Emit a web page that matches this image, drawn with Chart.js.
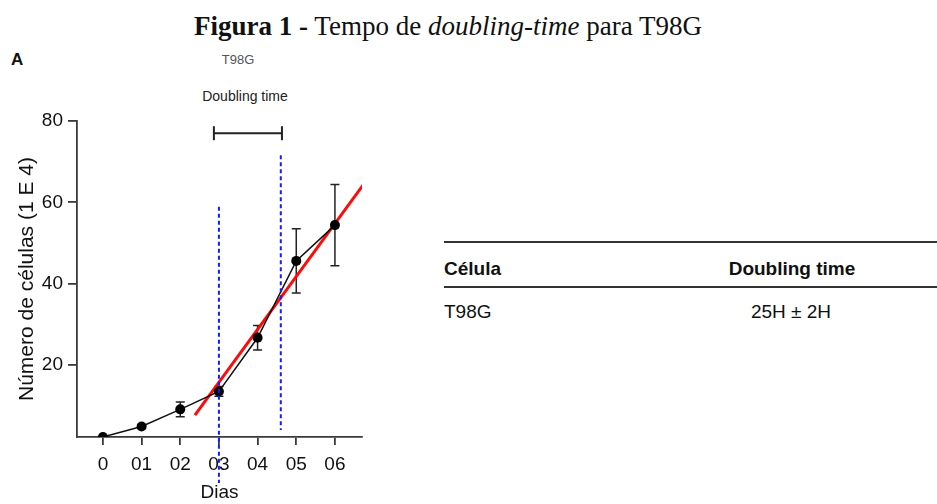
<!DOCTYPE html>
<html>
<head>
<meta charset="utf-8">
<script src="https://cdn.jsdelivr.net/npm/chart.js@4.4.0/dist/chart.umd.min.js"></script>
<style>
  html, body { margin: 0; padding: 0; background: #fff; }
  body { width: 937px; height: 504px; position: relative; overflow: hidden; font-family: "Liberation Sans", Arial, sans-serif; color: #111; }
  #wrap { position: absolute; left: 0; top: 0; width: 380px; height: 504px; }
  .abs { position: absolute; white-space: nowrap; line-height: 1; }
  #title { left: 448px; top: 13px; transform: translateX(-50%); font-family: "Liberation Serif", "DejaVu Serif", serif; font-size: 27px; }
  .rule { position: absolute; left: 444px; width: 493px; height: 2px; background: #333; }
</style>
</head>
<body>
<div id="title" class="abs"><b>Figura 1 -</b> Tempo de <i>doubling-time</i> para T98G</div>
<div class="abs" style="left:11px; top:51px; font-weight:bold; font-size:17px;">A</div>
<div class="abs" style="left:238px; top:53px; transform:translateX(-50%); font-size:13px; color:#555;">T98G</div>
<div class="abs" style="left:245px; top:89px; transform:translateX(-50%); font-size:14px; color:#222;">Doubling time</div>

<div class="rule" style="top:241px;"></div>
<div class="abs" style="left:444px; top:259px; font-size:19px; font-weight:bold;">Célula</div>
<div class="abs" style="left:792px; top:259px; transform:translateX(-50%); font-size:19px; font-weight:bold;">Doubling time</div>
<div class="rule" style="top:286px;"></div>
<div class="abs" style="left:444px; top:302px; font-size:19px;">T98G</div>
<div class="abs" style="left:791px; top:302px; transform:translateX(-50%); font-size:19px;">25H ± 2H</div>

<div id="wrap"><canvas id="growthChart" width="380" height="504"></canvas></div>

<script>
// measured cell counts (x 1E4) per day, with SD
const days = [0, 1, 2, 3, 4, 5, 6];
const dayLabels = ["0", "01", "02", "03", "04", "05", "06"];
const cells = [2.3, 4.9, 9.1, 13.5, 26.7, 45.6, 54.4];
const cellErr = [0, 0.5, 1.8, 1.2, 3.0, 7.9, 10.0];

// exponential-phase fit line (red)
const fitX = [2.38, 6.8];
const fitY = [7.7, 65.2];

// dashed markers for the doubling window
const markA = { x: 3.0, y: [58.9, -9] };
const markB = { x: 4.6, y: [71.6, 4.0] };

// bracket over the chart
const bracketX = [2.87, 4.63];
const bracketY = 77;

const yTicks = [20, 40, 60, 80];

const toPts = (xs, ys) => xs.map((v, i) => ({ x: v, y: ys[i] }));

const errorBars = {
  id: "errorBars",
  beforeDatasetsDraw(chart) {
    const { ctx, scales: { x, y } } = chart;
    ctx.save();
    ctx.strokeStyle = "#222";
    ctx.lineWidth = 1.5;
    days.forEach((d, i) => {
      const e = cellErr[i];
      if (!e) return;
      const px = x.getPixelForValue(d);
      const top = y.getPixelForValue(cells[i] + e);
      const bot = y.getPixelForValue(cells[i] - e);
      ctx.beginPath();
      ctx.moveTo(px, top); ctx.lineTo(px, bot);
      ctx.moveTo(px - 4.5, top); ctx.lineTo(px + 4.5, top);
      ctx.moveTo(px - 4.5, bot); ctx.lineTo(px + 4.5, bot);
      ctx.stroke();
    });
    ctx.restore();
  }
};

new Chart(document.getElementById("growthChart"), {
  type: "line",
  data: {
    datasets: [
      {
        data: toPts(days, cells),
        borderColor: "#111",
        backgroundColor: "#000",
        borderWidth: 1.5,
        pointRadius: 5,
        pointBorderWidth: 0,
        tension: 0,
        order: 1
      },
      {
        data: toPts(fitX, fitY),
        borderColor: "#ff0a0a",
        borderWidth: 3,
        pointRadius: 0,
        order: 2
      },
      {
        data: toPts([markA.x, markA.x], markA.y),
        borderColor: "#1a1aff",
        borderWidth: 2,
        borderDash: [4, 3],
        pointRadius: 0,
        clip: false,
        order: 0
      },
      {
        data: toPts([markB.x, markB.x], markB.y),
        borderColor: "#1a1aff",
        borderWidth: 2,
        borderDash: [4, 3],
        pointRadius: 0,
        clip: false,
        order: 0
      },
      {
        data: toPts(bracketX, [bracketY, bracketY]),
        borderColor: "#222",
        borderWidth: 2,
        pointStyle: "line",
        pointRotation: 90,
        pointRadius: 7,
        pointBorderWidth: 2,
        pointBorderColor: "#222",
        clip: false,
        order: 0
      }
    ]
  },
  plugins: [errorBars],
  options: {
    responsive: false,
    animation: false,
    layout: { padding: { top: 121, right: 18, left: 0, bottom: 0 } },
    plugins: { legend: { display: false }, tooltip: { enabled: false } },
    scales: {
      x: {
        type: "linear",
        min: -0.67,
        max: 6.7,
        afterBuildTicks: s => { s.ticks = days.map(v => ({ value: v })); },
        afterFit: s => { s.height = 67; },
        grid: { drawOnChartArea: false, drawTicks: true, tickLength: 8, color: "#3a3a3a", lineWidth: 1.8 },
        border: { color: "#3a3a3a", width: 1.8 },
        ticks: {
          padding: 8,
          color: "#111",
          font: { family: "Liberation Sans", size: 19 },
          callback: v => dayLabels[days.indexOf(v)]
        },
        title: { display: true, text: "Dias", color: "#111", padding: { top: 0, bottom: 0 }, font: { family: "Liberation Sans", size: 19 } }
      },
      y: {
        min: 2.3,
        max: 80,
        afterBuildTicks: s => { s.ticks = yTicks.map(v => ({ value: v })); },
        afterFit: s => { s.width = 77; },
        grid: { drawOnChartArea: false, drawTicks: true, tickLength: 9, color: "#3a3a3a", lineWidth: 1.8 },
        border: { color: "#3a3a3a", width: 1.8 },
        ticks: { padding: 5, color: "#111", font: { family: "Liberation Sans", size: 19 } },
        title: { display: true, text: "Número de células (1 E 4)", color: "#111", padding: { top: 15, bottom: 0 }, font: { family: "Liberation Sans", size: 21 } }
      }
    }
  }
});
</script>
</body>
</html>
